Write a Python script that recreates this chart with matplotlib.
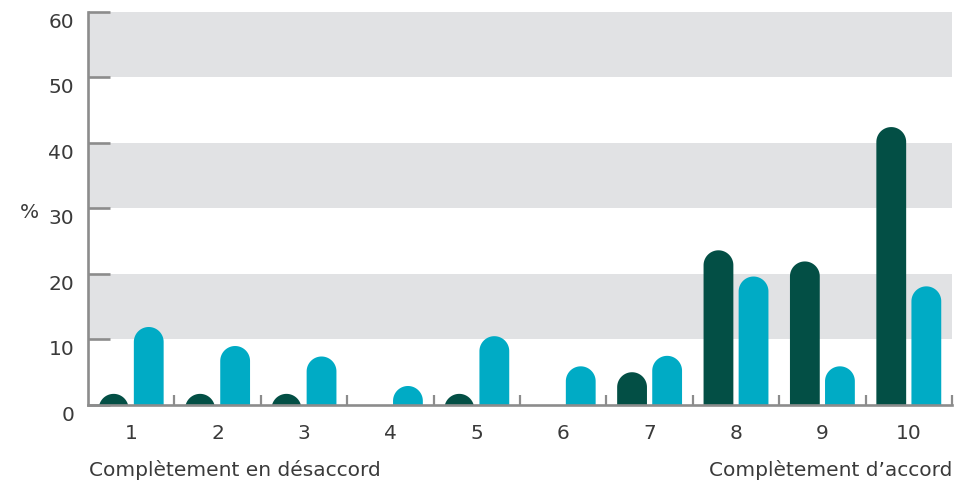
import numpy as np
import matplotlib
matplotlib.use("Agg")
import matplotlib.pyplot as plt
from matplotlib.path import Path
from matplotlib.patches import PathPatch

plt.rcParams['font.family'] = ['DejaVu Sans']

# Data
categories = ["1", "2", "3", "4", "5", "6", "7", "8", "9", "10"]
series_dark = [1.7, 1.7, 1.7, 0.0, 1.7, 0.0, 5.0, 23.6, 21.9, 42.4]
series_cyan = [11.9, 9.0, 7.4, 2.9, 10.5, 5.9, 7.5, 19.6, 5.9, 18.1]
y_ticks = [0, 10, 20, 30, 40, 50, 60]
label_left = "Complètement en désaccord"
label_right = "Complètement d\u2019accord"

DARK = "#034f45"
CYAN = "#00abc5"
BAND = "#e1e2e4"
AXIS = "#8c8c8c"
TEXT = "#3a3a3a"
FS = 14.5

W, H, DPI = 9.8, 4.85, 100
fig = plt.figure(figsize=(W, H), dpi=DPI)
ax_left, ax_bottom = 88 / 980, (485 - 406) / 485
ax_w, ax_h = (952 - 88) / 980, (406 - 12.7) / 485
ax = fig.add_axes([ax_left, ax_bottom, ax_w, ax_h])

x = np.arange(1, len(categories) + 1)
xlim = (0.5, len(categories) + 0.5)
ylim = (0, 60)
ax.set_xlim(*xlim)
ax.set_ylim(*ylim)

# alternating grey bands
for lo in (10, 30, 50):
    ax.axhspan(lo, lo + 10, color=BAND, zorder=0, lw=0)

# pixel scale for rounded caps
px_per_x = ax_w * W * DPI / (xlim[1] - xlim[0])
px_per_y = ax_h * H * DPI / (ylim[1] - ylim[0])

bar_w = 0.345
offset = 0.203


def rounded_bar(xc, value, color):
    if value <= 0:
        return
    rx = bar_w / 2
    ry = rx * px_per_x / px_per_y
    base = value - ry
    t = np.linspace(0, np.pi, 60)
    arc_x = xc + rx * np.cos(t)
    arc_y = base + ry * np.sin(t)
    verts = [(xc + rx, min(0, base)), (xc + rx, base)]
    verts += list(zip(arc_x, arc_y))
    verts += [(xc - rx, min(0, base)), (xc + rx, min(0, base))]
    codes = [Path.MOVETO] + [Path.LINETO] * (len(verts) - 2) + [Path.CLOSEPOLY]
    patch = PathPatch(Path(verts, codes), facecolor=color, edgecolor='none', zorder=2)
    ax.add_patch(patch)


for xi, d, c in zip(x, series_dark, series_cyan):
    rounded_bar(xi - offset, d, DARK)
    rounded_bar(xi + offset, c, CYAN)

# axes styling
for s in ("top", "right"):
    ax.spines[s].set_visible(False)
for s in ("left", "bottom"):
    ax.spines[s].set_color(AXIS)
    ax.spines[s].set_linewidth(1.9)
    ax.spines[s].set_zorder(3)

ax.set_yticks(y_ticks)
ax.set_yticklabels([str(v) for v in y_ticks])
ax.tick_params(axis='y', direction='in', length=16, width=1.9, color=AXIS,
               pad=10, labelsize=FS, labelcolor=TEXT)
for lbl in ax.get_yticklabels():
    lbl.set_verticalalignment('top')

ax.set_xticks(x)
ax.set_xticklabels(categories)
ax.set_xticks(np.arange(1.5, len(categories) + 1, 1.0), minor=True)
ax.tick_params(axis='x', which='major', length=0, pad=13, labelsize=FS, labelcolor=TEXT)
ax.tick_params(axis='x', which='minor', direction='in', length=7, width=1.6, color=AXIS)

fig.text(29 / 980, 1 - 212 / 485, "%", ha='center', va='center', fontsize=FS, color=TEXT)
fig.text(89 / 980, 1 - 470 / 485, label_left, ha='left', va='center', fontsize=FS, color=TEXT)
fig.text(952 / 980, 1 - 470 / 485, label_right, ha='right', va='center', fontsize=FS, color=TEXT)

fig.savefig("out.png", dpi=DPI)
